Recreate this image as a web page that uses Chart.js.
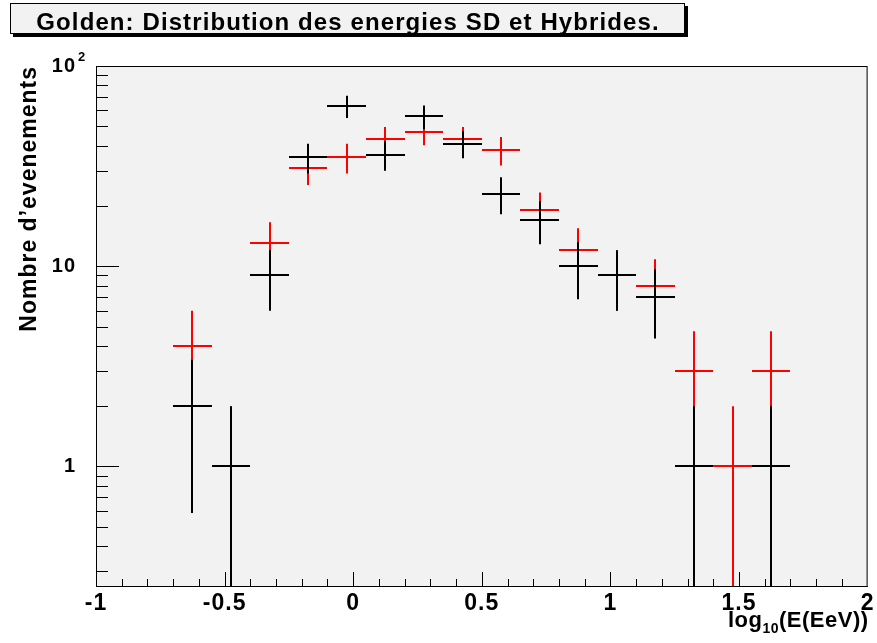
<!DOCTYPE html>
<html>
<head>
<meta charset="utf-8">
<script src="https://cdn.jsdelivr.net/npm/chart.js@4.4.1/dist/chart.umd.min.js"></script>
<style>
  html, body { margin: 0; padding: 0; background: #fff; }
  #wrap { width: 877px; height: 643px; }
</style>
</head>
<body>
<div id="wrap"><canvas id="chart" width="877" height="643"></canvas></div>
<script>
// bins of 0.15 in log10(E/EeV)
const binEdges = [-1, -0.85, -0.7, -0.55, -0.4, -0.25, -0.1, 0.05, 0.2, 0.35, 0.5,
  0.65, 0.8, 0.95, 1.1, 1.25, 1.4, 1.55, 1.7, 1.85, 2];
const sdCounts = [0, 0, 2, 1, 9, 35, 63, 36, 56, 41, 23, 17, 10, 9, 7, 1, 0, 1, 0, 0];
const hybridCounts = [0, 0, 4, 1, 13, 31, 35, 43, 47, 43, 38, 19, 12, 9, 8, 3, 1, 3, 0, 0];
const xTicks = [-1, -0.5, 0, 0.5, 1, 1.5, 2];
const yTicks = [1, 10, 100];

const FONT = "'Liberation Sans', Arial, Helvetica, sans-serif";
const binCenters = binEdges.slice(0, -1).map((e, i) => (e + binEdges[i + 1]) / 2);
const toPoints = counts => counts.map((n, i) => ({ x: binCenters[i], y: n > 0 ? n : null }));

const rootStyle = {
  id: 'rootStyle',
  beforeDraw(chart) {
    const { ctx, chartArea: a } = chart;
    ctx.save();
    ctx.fillStyle = '#fff';
    ctx.fillRect(0, 0, chart.width, chart.height);
    ctx.fillStyle = '#f2f2f2';
    ctx.fillRect(a.left, a.top, a.right - a.left, a.bottom - a.top);
    ctx.restore();
    ctx.letterSpacing = '1px';
  },
  afterDatasetsDraw(chart) {
    const { ctx, chartArea: a, scales: { x, y } } = chart;
    ctx.save();
    ctx.letterSpacing = '0px';
    ctx.beginPath();
    ctx.rect(a.left, a.top, a.right - a.left, a.bottom - a.top);
    ctx.clip();
    ctx.lineWidth = 2;
    chart.data.datasets.forEach(ds => {
      ctx.strokeStyle = ds.borderColor;
      ds.data.forEach((p, i) => {
        if (!p.y) return;
        const xl = Math.round(x.getPixelForValue(binEdges[i]));
        const xr = Math.round(x.getPixelForValue(binEdges[i + 1]));
        const xc = Math.round(x.getPixelForValue(p.x));
        const err = Math.sqrt(p.y);
        const yc = Math.round(y.getPixelForValue(p.y));
        const yt = y.getPixelForValue(p.y + err);
        const yb = p.y - err > 0 ? y.getPixelForValue(p.y - err) : a.bottom;
        ctx.beginPath();
        ctx.moveTo(xl, yc); ctx.lineTo(xr, yc);
        ctx.moveTo(xc, yt); ctx.lineTo(xc, yb);
        ctx.stroke();
      });
    });
    ctx.restore();
  },
  afterDraw(chart) {
    const { ctx, chartArea: a, scales: { x, y } } = chart;
    ctx.save();
    ctx.letterSpacing = '0px';
    // frame
    ctx.strokeStyle = '#000';
    ctx.lineWidth = 1;
    ctx.strokeRect(a.left + 0.5, a.top + 0.5, a.right - a.left - 1, a.bottom - a.top - 1);

    // empty bins sit on the bottom edge
    chart.data.datasets.forEach(ds => {
      ctx.strokeStyle = ds.borderColor === '#ff0000' ? '#5a0000' : '#000';
      ds.data.forEach((p, i) => {
        if (p.y) return;
        ctx.beginPath();
        ctx.moveTo(x.getPixelForValue(binEdges[i]), a.bottom - 0.5);
        ctx.lineTo(x.getPixelForValue(binEdges[i + 1]), a.bottom - 0.5);
        ctx.stroke();
      });
    });

    // inner tick marks, ROOT style
    ctx.strokeStyle = '#000';
    ctx.beginPath();
    for (let k = -9; k < 20; k++) {
      const px = Math.round(x.getPixelForValue(k / 10)) + 0.5;
      const len = k % 5 === 0 ? 15 : 8;
      ctx.moveTo(px, a.bottom); ctx.lineTo(px, a.bottom - len);
    }
    for (let d = -1; d <= 2; d++) {
      for (let m = 1; m <= 9; m++) {
        const v = m * Math.pow(10, d);
        if (v < y.min || v > y.max) continue;
        const py = Math.round(y.getPixelForValue(v)) + 0.5;
        const len = m === 1 ? 23 : 12;
        ctx.moveTo(a.left, py); ctx.lineTo(a.left + len, py);
      }
    }
    ctx.stroke();

    ctx.fillStyle = '#000';
    ctx.letterSpacing = '1px';
    // exponent of the 10^2 label
    ctx.font = 'bold 13px ' + FONT;
    ctx.textAlign = 'left';
    ctx.textBaseline = 'alphabetic';
    ctx.fillText('2', 78, y.getPixelForValue(100) - 5);

    // x axis title with subscript
    ctx.letterSpacing = '0.5px';
    const big = 'bold 22px ' + FONT, small = 'bold 14px ' + FONT;
    const parts = [['log', big, 0], ['10', small, 6], ['(E(EeV))', big, 0]];
    let total = 0;
    parts.forEach(([t, f]) => { ctx.font = f; total += ctx.measureText(t).width; });
    let cx = a.right + 1 - total;
    parts.forEach(([t, f, dy]) => {
      ctx.font = f;
      ctx.fillText(t, cx, 627 + dy);
      cx += ctx.measureText(t).width;
    });

    // title box with shadow
    ctx.fillStyle = '#000';
    ctx.fillRect(13, 6, 675, 31);
    ctx.fillStyle = '#f2f2f2';
    ctx.fillRect(10, 3, 675, 31);
    ctx.strokeRect(10.5, 3.5, 674, 30);
    ctx.fillStyle = '#000';
    ctx.font = 'bold 24px ' + FONT;
    ctx.letterSpacing = '1.1px';
    ctx.textAlign = 'center';
    ctx.fillText('Golden: Distribution des energies SD et Hybrides.', 348, 30);
    ctx.restore();
  }
};

new Chart(document.getElementById('chart'), {
  type: 'scatter',
  data: {
    datasets: [
      { label: 'Hybrides', data: toPoints(hybridCounts), borderColor: '#ff0000', pointRadius: 0, showLine: false },
      { label: 'SD', data: toPoints(sdCounts), borderColor: '#000000', pointRadius: 0, showLine: false }
    ]
  },
  options: {
    responsive: false,
    animation: false,
    devicePixelRatio: 1,
    events: [],
    layout: { padding: { top: 66, right: 8, left: 0, bottom: 0 } },
    plugins: { legend: { display: false }, tooltip: { enabled: false }, title: { display: false } },
    scales: {
      x: {
        type: 'linear',
        min: -1,
        max: 2,
        grid: { display: false, drawTicks: false, tickLength: 0 },
        border: { display: false },
        afterBuildTicks: s => { s.ticks = xTicks.map(v => ({ value: v })); },
        afterFit: s => { s.height = 56; },
        ticks: {
          autoSkip: false,
          maxRotation: 0,
          padding: 3,
          color: '#000',
          font: { family: FONT, size: 23, weight: 'bold' },
          callback: v => String(v)
        }
      },
      y: {
        type: 'logarithmic',
        min: 0.25,
        max: 100,
        grid: { display: false, drawTicks: false, tickLength: 0 },
        border: { display: false },
        afterBuildTicks: s => { s.ticks = yTicks.map(v => ({ value: v, major: true })); },
        afterFit: s => { s.width = 96; },
        ticks: {
          padding: 20,
          color: '#000',
          font: { family: FONT, size: 20, weight: 'bold' },
          callback: v => (v === 100 ? '10' : String(v))
        },
        title: {
          display: true,
          text: "Nombre d\u2019evenements",
          align: 'end',
          color: '#000',
          padding: { top: 16, bottom: 0 },
          font: { family: FONT, size: 23, weight: 'bold' }
        }
      }
    }
  },
  plugins: [rootStyle]
});
</script>
</body>
</html>
